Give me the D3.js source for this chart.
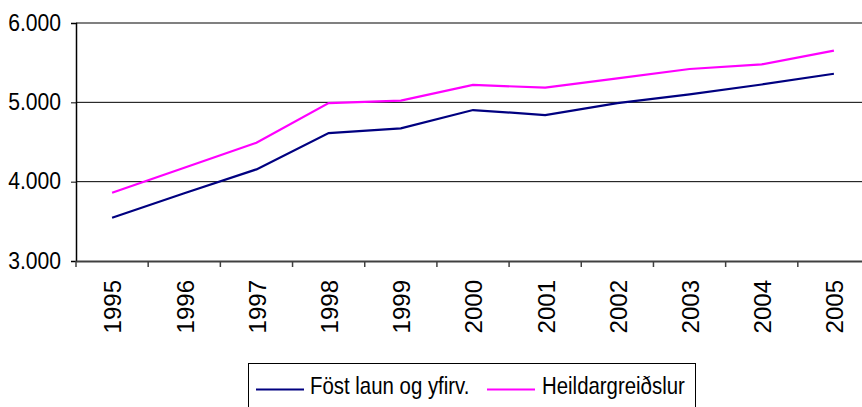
<!DOCTYPE html>
<html><head><meta charset="utf-8">
<script src="https://cdn.jsdelivr.net/npm/d3@7/dist/d3.min.js"></script>
<style>body{margin:0;background:#fff}svg{display:block}text{font-family:"Liberation Sans",Arial,sans-serif}</style>
</head><body>
<svg id="c" width="862" height="407"></svg>
<script>
const years = ["1995","1996","1997","1998","1999","2000","2001","2002","2003","2004","2005"];
const fostLaun = [3545,3855,4155,4613,4672,4903,4840,4990,5100,5225,5360];
const heildar = [3860,4176,4491,4990,5021,5219,5185,5303,5420,5479,5651];
const yTicks = [3000,4000,5000,6000];
const seriesNames = ["Föst laun og yfirv.","Heildargreiðslur"];
const colors = ["#000080","#ff00ff"];

const svg = d3.select("#c");
const L=76, R=870, T=23, B=261;
const x = d3.scaleBand().domain(years).range([L,R]);
const y = d3.scaleLinear().domain([3000,6000]).range([B,T]);
const fmt = v => d3.format(",")(v).replace(/,/g,".");

// gridlines
svg.append("g").selectAll("line").data(yTicks.filter(v=>v>3000)).join("line")
  .attr("x1",L).attr("x2",862).attr("y1",d=>y(d)).attr("y2",d=>y(d))
  .attr("stroke",d=>d===6000?"#808080":"#000").attr("stroke-width",d=>d===6000?2:1);

// y axis
const ya = svg.append("g").attr("transform",`translate(${L},0)`)
  .call(d3.axisLeft(y).tickValues(yTicks).tickFormat(fmt).tickSize(5));
ya.select(".domain").attr("stroke","#000").attr("stroke-width",1.5);
ya.selectAll(".tick line").attr("stroke","#000");
ya.selectAll(".tick text").remove();
ya.selectAll(".tick").append("text")
  .attr("transform","translate(-15,0) scale(0.88,1)")
  .attr("text-anchor","end").attr("dy","0.3em")
  .attr("font-size",24).attr("fill","#000").text(fmt);

// x axis
const xa = svg.append("g").attr("transform",`translate(0,${B})`)
  .call(d3.axisBottom(x).tickSize(0).tickPadding(0));
xa.select(".domain").attr("stroke","#404040").attr("stroke-width",2);
xa.selectAll(".tick line").remove();
xa.selectAll("text").remove();
xa.selectAll(".tick").append("text")
  .attr("transform","translate(1,19) rotate(-90)")
  .attr("text-anchor","end").attr("dy","0.35em")
  .attr("font-size",24).attr("fill","#000").text(d=>d);
// boundary ticks
svg.append("g").selectAll("line").data(years.concat(["end"])).join("line")
  .attr("x1",(d,i)=>L+i*x.step()).attr("x2",(d,i)=>L+i*x.step())
  .attr("y1",B).attr("y2",B+6).attr("stroke","#404040").attr("stroke-width",1.5);

// lines
const line = d3.line().x((d,i)=>x(years[i])+x.bandwidth()/2).y(d=>y(d));
[fostLaun, heildar].forEach((s,k)=>{
  svg.append("path").datum(s).attr("d",line).attr("fill","none")
    .attr("stroke",colors[k]).attr("stroke-width",2.2);
});

// legend
const lg = svg.append("g");
lg.append("rect").attr("x",248.5).attr("y",363.5).attr("width",447).attr("height",60)
  .attr("fill","#fff").attr("stroke","#000").attr("stroke-width",1);
const items=[{x:256,tx:310},{x:487,tx:542}];
items.forEach((it,k)=>{
  lg.append("line").attr("x1",it.x).attr("x2",it.x+48).attr("y1",389.5).attr("y2",389.5)
    .attr("stroke",colors[k]).attr("stroke-width",2.2);
  lg.append("text").attr("transform",`translate(${it.tx},394) scale(0.85,1)`)
    .attr("font-size",24).attr("fill","#000").text(seriesNames[k]);
});
</script>
</body></html>
